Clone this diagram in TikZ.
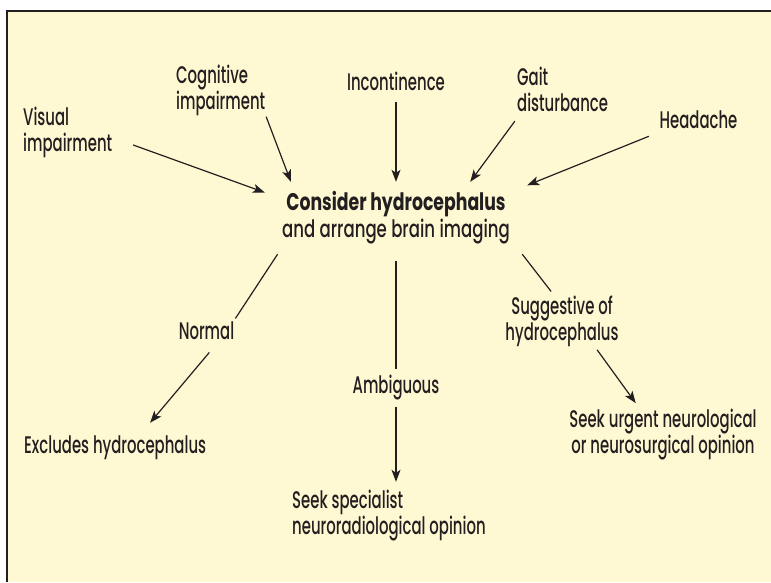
\documentclass[tikz,border=0pt]{standalone}
\usepackage{fontspec}
\setmainfont{Poppins}[FakeStretch=0.62, UprightFont={* Medium}, BoldFont={* Bold}]
\newfontfamily\titlefont{Poppins}[UprightFont={* Medium}, BoldFont={* Bold},
  UprightFeatures={FakeStretch=0.69}, BoldFeatures={FakeStretch=0.72}]
\usetikzlibrary{arrows.meta}
\definecolor{paper}{HTML}{FFF9D3}
\definecolor{ink}{HTML}{231F20}

\begin{document}
\begin{tikzpicture}[x=1pt, y=-1pt,
  lbl/.style={font=\fontsize{24}{26}\selectfont, inner sep=0pt, text=ink},
  arr/.style={draw=ink, line width=1.2pt, -{Stealth[length=12pt,width=9pt,inset=3pt]}},
  link/.style={draw=ink, line width=1.2pt}]
  \useasboundingbox (0,0) rectangle (771,582);
  % panel
  \fill[paper] (7,11) rectangle (771,582);
  \draw[ink, line width=1.5pt] (7,582) -- (7,11) -- (771,11);
  % centre
  \node[lbl, font=\titlefont\fontsize{24}{27}\selectfont, align=center,
        minimum width=262pt, minimum height=72pt] (main) at (396,218)
    {\textbf{Consider hydrocephalus}\\and arrange brain imaging};
  % symptoms
  \node[lbl, align=left, anchor=west] (vis) at (23,132) {Visual\\impairment};
  \node[lbl, align=left, anchor=west] (cog) at (176,90) {Cognitive\\impairment};
  \node[lbl] (inc) at (396,81) {Incontinence};
  \node[lbl, align=left, anchor=west] (gait) at (517,89) {Gait\\disturbance};
  \node[lbl] (head) at (698.5,120) {Headache};
  \draw[arr, shorten <=22pt] (vis.-7) -- (main.169);
  \draw[arr, shorten <=2pt] (cog.-29) -- (main.161);
  \draw[arr, shorten <=11pt] (inc.south) -- (main.north);
  \draw[arr, shorten <=12pt] (gait.209) -- (main.26);
  \draw[arr, shorten <=19pt] (head.196) -- (main.14);
  % imaging results
  \node[lbl] (normal) at (206.5,331) {Normal};
  \node[lbl] (ambig) at (396,388) {Ambiguous};
  \node[lbl, align=center] (sugg) at (562,321) {Suggestive of\\hydrocephalus};
  \draw[link, shorten >=4pt] (main.197) -- (normal.19);
  \draw[link, shorten <=7pt, shorten >=6pt] (main.south) -- (ambig.north);
  \draw[link, shorten >=5pt] (main.-16) -- (sugg.107);
  % outcomes
  \node[lbl, align=left, anchor=west] (excl) at (24,448) {Excludes hydrocephalus};
  \node[lbl, align=left, anchor=west] (spec) at (292,515.5) {Seek specialist\\neuroradiological opinion};
  \node[lbl, align=center] (urgent) at (663,434.5) {Seek urgent neurological\\or neurosurgical opinion};
  \draw[arr, shorten <=16pt, shorten >=17pt] (normal.-35) -- (excl.27);
  \draw[arr, shorten <=6pt, shorten >=8pt] (ambig.south) -- (ambig.south |- spec.north);
  \draw[arr, shorten <=4pt, shorten >=7pt] (sugg.-38) -- (urgent.132);
\end{tikzpicture}
\end{document}
